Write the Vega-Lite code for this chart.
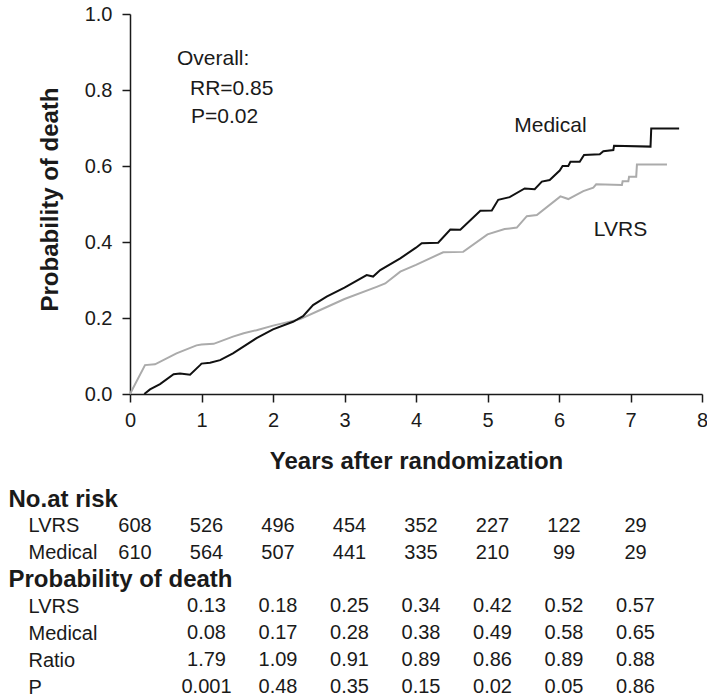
{
  "$schema": "https://vega.github.io/schema/vega-lite/v6.json",
  "padding": {"left": 8, "top": 4, "right": 0, "bottom": 0},
  "background": "white",
  "config": {
    "font": "Liberation Sans",
    "view": {"stroke": null},
    "text": {"color": "#1a1a1a"}
  },
  "datasets": {
    "curves": [
      {"arm": "LVRS", "t": 0.0, "p": 0.0},
      {"arm": "LVRS", "t": 0.21, "p": 0.076},
      {"arm": "LVRS", "t": 0.35, "p": 0.078},
      {"arm": "LVRS", "t": 0.65, "p": 0.107},
      {"arm": "LVRS", "t": 0.93, "p": 0.128},
      {"arm": "LVRS", "t": 1.0, "p": 0.13},
      {"arm": "LVRS", "t": 1.17, "p": 0.132},
      {"arm": "LVRS", "t": 1.44, "p": 0.151},
      {"arm": "LVRS", "t": 1.59, "p": 0.16},
      {"arm": "LVRS", "t": 1.77, "p": 0.168},
      {"arm": "LVRS", "t": 2.0, "p": 0.18},
      {"arm": "LVRS", "t": 2.38, "p": 0.197},
      {"arm": "LVRS", "t": 2.66, "p": 0.221},
      {"arm": "LVRS", "t": 3.0, "p": 0.25},
      {"arm": "LVRS", "t": 3.45, "p": 0.282},
      {"arm": "LVRS", "t": 3.57, "p": 0.291},
      {"arm": "LVRS", "t": 3.78, "p": 0.322},
      {"arm": "LVRS", "t": 4.0, "p": 0.34},
      {"arm": "LVRS", "t": 4.38, "p": 0.373},
      {"arm": "LVRS", "t": 4.66, "p": 0.374},
      {"arm": "LVRS", "t": 5.0, "p": 0.42},
      {"arm": "LVRS", "t": 5.24, "p": 0.434},
      {"arm": "LVRS", "t": 5.41, "p": 0.438},
      {"arm": "LVRS", "t": 5.55, "p": 0.468},
      {"arm": "LVRS", "t": 5.69, "p": 0.471},
      {"arm": "LVRS", "t": 6.02, "p": 0.52},
      {"arm": "LVRS", "t": 6.13, "p": 0.513},
      {"arm": "LVRS", "t": 6.34, "p": 0.534},
      {"arm": "LVRS", "t": 6.48, "p": 0.543},
      {"arm": "LVRS", "t": 6.52, "p": 0.552},
      {"arm": "LVRS", "t": 6.88, "p": 0.55},
      {"arm": "LVRS", "t": 6.89, "p": 0.56},
      {"arm": "LVRS", "t": 6.97, "p": 0.56},
      {"arm": "LVRS", "t": 6.98, "p": 0.572},
      {"arm": "LVRS", "t": 7.08, "p": 0.572},
      {"arm": "LVRS", "t": 7.09, "p": 0.604},
      {"arm": "LVRS", "t": 7.51, "p": 0.604},
      {"arm": "Medical", "t": 0.2, "p": 0.0},
      {"arm": "Medical", "t": 0.28, "p": 0.012},
      {"arm": "Medical", "t": 0.42, "p": 0.026},
      {"arm": "Medical", "t": 0.61, "p": 0.052},
      {"arm": "Medical", "t": 0.7, "p": 0.054},
      {"arm": "Medical", "t": 0.84, "p": 0.051},
      {"arm": "Medical", "t": 0.98, "p": 0.076},
      {"arm": "Medical", "t": 1.0, "p": 0.08},
      {"arm": "Medical", "t": 1.12, "p": 0.082},
      {"arm": "Medical", "t": 1.26, "p": 0.089},
      {"arm": "Medical", "t": 1.44, "p": 0.107},
      {"arm": "Medical", "t": 1.77, "p": 0.147},
      {"arm": "Medical", "t": 2.0, "p": 0.17},
      {"arm": "Medical", "t": 2.28, "p": 0.19},
      {"arm": "Medical", "t": 2.42, "p": 0.205},
      {"arm": "Medical", "t": 2.56, "p": 0.234},
      {"arm": "Medical", "t": 2.75, "p": 0.256},
      {"arm": "Medical", "t": 3.0, "p": 0.28},
      {"arm": "Medical", "t": 3.31, "p": 0.313},
      {"arm": "Medical", "t": 3.4, "p": 0.309},
      {"arm": "Medical", "t": 3.5, "p": 0.326},
      {"arm": "Medical", "t": 3.78, "p": 0.357},
      {"arm": "Medical", "t": 4.0, "p": 0.385},
      {"arm": "Medical", "t": 4.08, "p": 0.397},
      {"arm": "Medical", "t": 4.31, "p": 0.398},
      {"arm": "Medical", "t": 4.48, "p": 0.433},
      {"arm": "Medical", "t": 4.62, "p": 0.432},
      {"arm": "Medical", "t": 4.9, "p": 0.482},
      {"arm": "Medical", "t": 5.06, "p": 0.483},
      {"arm": "Medical", "t": 5.15, "p": 0.511},
      {"arm": "Medical", "t": 5.31, "p": 0.518},
      {"arm": "Medical", "t": 5.52, "p": 0.541},
      {"arm": "Medical", "t": 5.66, "p": 0.539},
      {"arm": "Medical", "t": 5.76, "p": 0.559},
      {"arm": "Medical", "t": 5.87, "p": 0.563},
      {"arm": "Medical", "t": 6.01, "p": 0.588},
      {"arm": "Medical", "t": 6.05, "p": 0.6},
      {"arm": "Medical", "t": 6.13, "p": 0.6},
      {"arm": "Medical", "t": 6.16, "p": 0.611},
      {"arm": "Medical", "t": 6.29, "p": 0.611},
      {"arm": "Medical", "t": 6.35, "p": 0.629},
      {"arm": "Medical", "t": 6.57, "p": 0.631},
      {"arm": "Medical", "t": 6.62, "p": 0.639},
      {"arm": "Medical", "t": 6.76, "p": 0.642},
      {"arm": "Medical", "t": 6.77, "p": 0.653},
      {"arm": "Medical", "t": 7.28, "p": 0.651},
      {"arm": "Medical", "t": 7.29, "p": 0.699},
      {"arm": "Medical", "t": 7.68, "p": 0.699}
    ],
    "table": [
      {"row": "risk:LVRS", "year": 0, "value": "608"},
      {"row": "risk:LVRS", "year": 1, "value": "526"},
      {"row": "risk:LVRS", "year": 2, "value": "496"},
      {"row": "risk:LVRS", "year": 3, "value": "454"},
      {"row": "risk:LVRS", "year": 4, "value": "352"},
      {"row": "risk:LVRS", "year": 5, "value": "227"},
      {"row": "risk:LVRS", "year": 6, "value": "122"},
      {"row": "risk:LVRS", "year": 7, "value": "29"},
      {"row": "risk:Medical", "year": 0, "value": "610"},
      {"row": "risk:Medical", "year": 1, "value": "564"},
      {"row": "risk:Medical", "year": 2, "value": "507"},
      {"row": "risk:Medical", "year": 3, "value": "441"},
      {"row": "risk:Medical", "year": 4, "value": "335"},
      {"row": "risk:Medical", "year": 5, "value": "210"},
      {"row": "risk:Medical", "year": 6, "value": "99"},
      {"row": "risk:Medical", "year": 7, "value": "29"},
      {"row": "death:LVRS", "year": 1, "value": "0.13"},
      {"row": "death:LVRS", "year": 2, "value": "0.18"},
      {"row": "death:LVRS", "year": 3, "value": "0.25"},
      {"row": "death:LVRS", "year": 4, "value": "0.34"},
      {"row": "death:LVRS", "year": 5, "value": "0.42"},
      {"row": "death:LVRS", "year": 6, "value": "0.52"},
      {"row": "death:LVRS", "year": 7, "value": "0.57"},
      {"row": "death:Medical", "year": 1, "value": "0.08"},
      {"row": "death:Medical", "year": 2, "value": "0.17"},
      {"row": "death:Medical", "year": 3, "value": "0.28"},
      {"row": "death:Medical", "year": 4, "value": "0.38"},
      {"row": "death:Medical", "year": 5, "value": "0.49"},
      {"row": "death:Medical", "year": 6, "value": "0.58"},
      {"row": "death:Medical", "year": 7, "value": "0.65"},
      {"row": "death:Ratio", "year": 1, "value": "1.79"},
      {"row": "death:Ratio", "year": 2, "value": "1.09"},
      {"row": "death:Ratio", "year": 3, "value": "0.91"},
      {"row": "death:Ratio", "year": 4, "value": "0.89"},
      {"row": "death:Ratio", "year": 5, "value": "0.86"},
      {"row": "death:Ratio", "year": 6, "value": "0.89"},
      {"row": "death:Ratio", "year": 7, "value": "0.88"},
      {"row": "death:P", "year": 1, "value": "0.001"},
      {"row": "death:P", "year": 2, "value": "0.48"},
      {"row": "death:P", "year": 3, "value": "0.35"},
      {"row": "death:P", "year": 4, "value": "0.15"},
      {"row": "death:P", "year": 5, "value": "0.02"},
      {"row": "death:P", "year": 6, "value": "0.05"},
      {"row": "death:P", "year": 7, "value": "0.86"}
    ]
  },
  "bounds": "flush",
  "spacing": 91.6,
  "vconcat": [
    {
      "width": 572,
      "height": 380,
      "encoding": {
        "x": {
          "type": "quantitative",
          "scale": {"domain": [0, 8], "nice": false},
          "axis": {
            "title": "Years after randomization",
            "values": [0, 1, 2, 3, 4, 5, 6, 7, 8],
            "format": "d",
            "grid": false,
            "labelFlush": false,
            "labelOverlap": false,
            "labelFontSize": 20,
            "labelPadding": 8,
            "labelColor": "#1a1a1a",
            "tickSize": 8,
            "tickWidth": 1.5,
            "tickColor": "#1a1a1a",
            "domainWidth": 1.5,
            "domainColor": "#1a1a1a",
            "titleFontSize": 24,
            "titleFontWeight": "bold",
            "titleColor": "#1a1a1a",
            "titlePadding": 19
          }
        },
        "y": {
          "type": "quantitative",
          "scale": {"domain": [0, 1], "nice": false},
          "axis": {
            "title": "Probability of death",
            "values": [0, 0.2, 0.4, 0.6, 0.8, 1],
            "format": ".1f",
            "grid": false,
            "labelFlush": false,
            "labelOverlap": false,
            "labelFontSize": 20,
            "labelPadding": 10,
            "labelColor": "#1a1a1a",
            "tickSize": 8,
            "tickWidth": 1.5,
            "tickColor": "#1a1a1a",
            "domainWidth": 1.5,
            "domainColor": "#1a1a1a",
            "titleFontSize": 24,
            "titleFontWeight": "bold",
            "titleColor": "#1a1a1a",
            "titlePadding": 22,
            "titleY": 185
          }
        }
      },
      "layer": [
        {
          "data": {"name": "curves"},
          "transform": [{"filter": "datum.arm == 'LVRS'"}],
          "mark": {"type": "line", "stroke": "#ababab", "strokeWidth": 2},
          "encoding": {
            "x": {"field": "t", "type": "quantitative"},
            "y": {"field": "p", "type": "quantitative"}
          }
        },
        {
          "data": {"name": "curves"},
          "transform": [{"filter": "datum.arm == 'Medical'"}],
          "mark": {"type": "line", "stroke": "#111111", "strokeWidth": 2},
          "encoding": {
            "x": {"field": "t", "type": "quantitative"},
            "y": {"field": "p", "type": "quantitative"}
          }
        },
        {
          "data": {"values": [{}]},
          "mark": {"type": "text", "text": "Overall:", "align": "left", "baseline": "middle", "fontSize": 21},
          "encoding": {
            "x": {"datum": 0.657, "type": "quantitative"},
            "y": {"datum": 0.882, "type": "quantitative"}
          }
        },
        {
          "data": {"values": [{}]},
          "mark": {"type": "text", "text": "RR=0.85", "align": "left", "baseline": "middle", "fontSize": 21},
          "encoding": {
            "x": {"datum": 0.839, "type": "quantitative"},
            "y": {"datum": 0.803, "type": "quantitative"}
          }
        },
        {
          "data": {"values": [{}]},
          "mark": {"type": "text", "text": "P=0.02", "align": "left", "baseline": "middle", "fontSize": 21},
          "encoding": {
            "x": {"datum": 0.853, "type": "quantitative"},
            "y": {"datum": 0.729, "type": "quantitative"}
          }
        },
        {
          "data": {"values": [{}]},
          "mark": {"type": "text", "text": "Medical", "align": "center", "baseline": "middle", "fontSize": 21},
          "encoding": {
            "x": {"datum": 5.88, "type": "quantitative"},
            "y": {"datum": 0.705, "type": "quantitative"}
          }
        },
        {
          "data": {"values": [{}]},
          "mark": {"type": "text", "text": "LVRS", "align": "center", "baseline": "middle", "fontSize": 21},
          "encoding": {
            "x": {"datum": 6.86, "type": "quantitative"},
            "y": {"datum": 0.432, "type": "quantitative"}
          }
        }
      ]
    },
    {
      "width": 572,
      "height": {"step": 26.86},
      "data": {"name": "table"},
      "mark": {"type": "text", "fontSize": 20, "dx": 5, "baseline": "middle"},
      "encoding": {
        "x": {
          "field": "year",
          "type": "quantitative",
          "scale": {"domain": [0, 8], "nice": false},
          "axis": null
        },
        "y": {
          "field": "row",
          "type": "nominal",
          "scale": {
            "domain": [
              "No.at risk",
              "risk:LVRS",
              "risk:Medical",
              "Probability of death",
              "death:LVRS",
              "death:Medical",
              "death:Ratio",
              "death:P"
            ]
          },
          "axis": {
            "title": null,
            "domain": false,
            "ticks": false,
            "tickSize": 0,
            "grid": false,
            "labelAlign": "left",
            "labelBaseline": "middle",
            "labelPadding": {
              "condition": {"test": "indexof(datum.value, ':') < 0", "value": 122},
              "value": 102
            },
            "labelColor": "#1a1a1a",
            "labelFontSize": {
              "condition": {"test": "indexof(datum.value, ':') < 0", "value": 24},
              "value": 20
            },
            "labelFontWeight": {
              "condition": {"test": "indexof(datum.value, ':') < 0", "value": "bold"},
              "value": "normal"
            },
            "labelExpr": "indexof(datum.value, ':') < 0 ? datum.value : split(datum.value, ':')[1]",
            "labelLimit": 400
          }
        },
        "text": {"field": "value"}
      }
    }
  ]
}
